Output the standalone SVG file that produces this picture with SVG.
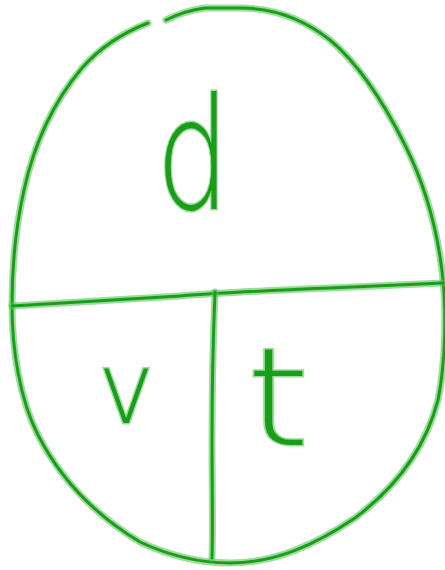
<svg xmlns="http://www.w3.org/2000/svg" width="445" height="570" viewBox="0 0 445 570">
<style>
.halo{fill:none;stroke:#5cc45c;stroke-opacity:0.6;stroke-width:7;stroke-linecap:round;stroke-linejoin:round}
.core{fill:none;stroke:#1a9e1a;stroke-width:3;stroke-linecap:round;stroke-linejoin:round}
.lbl{font-family:"DejaVu Sans","Inter",sans-serif;font-weight:200;fill:#1a9e1a;stroke:#5cc45c;stroke-opacity:0.6;stroke-width:3;paint-order:stroke;text-anchor:middle}
</style>
<rect width="445" height="570" fill="#ffffff"/>
<defs>
<path id="egg" d="M148,23 C130,30 105,42 82,68 C55,100 35,140 24,190 C15,230 12,270 12,305 C12,350 20,400 38,435 C60,478 95,515 140,542 C170,556 200,563 230,563 C275,563 315,545 355,518 C395,488 425,450 438,400 C446,360 446,310 443,280 C438,230 425,185 405,145 C385,105 360,65 330,40 C305,20 275,8 240,8 L205,8 C190,10 178,14 166,20"/>
<path id="hline" d="M12,306 C60,303 120,300 180,296 C230,292 280,290 330,288 C380,286 415,284 443,283"/>
<path id="vline" d="M215,292 C213,340 212,390 212,440 C212,490 213,530 212,558"/>
</defs>
<g id="connectors">
<use href="#egg" class="halo"/><use href="#egg" class="core"/>
<use href="#hline" class="halo"/><use href="#hline" class="core"/>
<use href="#vline" class="halo"/><use href="#vline" class="core"/>
</g>
<g id="node-d"><text class="lbl" x="0" y="0" font-size="155" transform="translate(193,209) scale(0.75,1)">d</text></g>
<g id="node-v"><text class="lbl" x="0" y="0" font-size="100" transform="translate(126,423) scale(0.95,1)">v</text></g>
<g id="node-t"><text class="lbl" x="0" y="0" font-size="135" transform="translate(278,445) scale(1.2,1)">t</text></g>
</svg>
